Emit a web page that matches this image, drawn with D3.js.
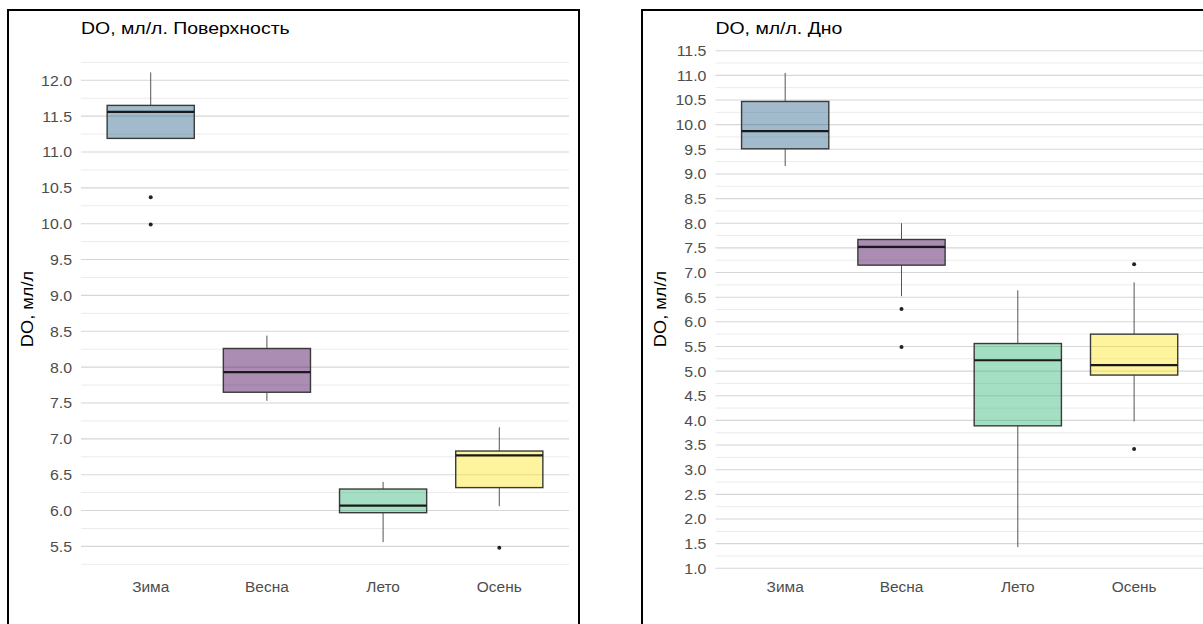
<!DOCTYPE html>
<html>
<head>
<meta charset="utf-8">
<script src="https://cdn.jsdelivr.net/npm/d3@7"></script>
<style>
  html, body { margin: 0; padding: 0; background: #fff; }
  svg { display: block; font-family: "Liberation Sans", Arial, sans-serif; }
</style>
</head>
<body>
<svg id="chart" width="1203" height="624"></svg>
<script>
const categories = ["Зима", "Весна", "Лето", "Осень"];
const colors = ["#31688E", "#440154", "#35B779", "#FDE725"];

// Surface panel
const surfaceTitle = "DO, мл/л. Поверхность";
const surfaceWhiskerLow  = [11.19, 7.53, 5.56, 6.06];
const surfaceQ1          = [11.19, 7.65, 5.97, 6.32];
const surfaceMedian      = [11.56, 7.93, 6.07, 6.77];
const surfaceQ3          = [11.65, 8.26, 6.30, 6.83];
const surfaceWhiskerHigh = [12.11, 8.44, 6.40, 7.16];
const surfaceOutliers    = [[10.37, 9.99], [], [], [5.48]];
const surfaceTicks = [5.5, 6.0, 6.5, 7.0, 7.5, 8.0, 8.5, 9.0, 9.5, 10.0, 10.5, 11.0, 11.5, 12.0];
const surfaceMinor = [5.25, 5.75, 6.25, 6.75, 7.25, 7.75, 8.25, 8.75, 9.25, 9.75, 10.25, 10.75, 11.25, 11.75, 12.25];

// Bottom panel
const bottomTitle = "DO, мл/л. Дно";
const bottomWhiskerLow  = [9.16, 6.52, 1.43, 3.98];
const bottomQ1          = [9.51, 7.15, 3.89, 4.92];
const bottomMedian      = [9.87, 7.52, 5.22, 5.12];
const bottomQ3          = [10.47, 7.67, 5.56, 5.75];
const bottomWhiskerHigh = [11.05, 8.00, 6.64, 6.80];
const bottomOutliers    = [[], [6.26, 5.49], [], [7.17, 3.42]];
const bottomTicks = [1.0, 1.5, 2.0, 2.5, 3.0, 3.5, 4.0, 4.5, 5.0, 5.5, 6.0, 6.5, 7.0, 7.5, 8.0, 8.5, 9.0, 9.5, 10.0, 10.5, 11.0, 11.5];
const bottomMinor = [1.25, 1.75, 2.25, 2.75, 3.25, 3.75, 4.25, 4.75, 5.25, 5.75, 6.25, 6.75, 7.25, 7.75, 8.25, 8.75, 9.25, 9.75, 10.25, 10.75, 11.25];

const yTitle = "DO, мл/л";

const svg = d3.select("#chart");

function drawPanel(cfg) {
  const g = svg.append("g");
  // frame
  g.append("rect")
    .attr("x", cfg.frame[0]).attr("y", cfg.frame[1])
    .attr("width", cfg.frame[2]).attr("height", cfg.frame[3])
    .attr("fill", "none").attr("stroke", "#000").attr("stroke-width", 2);

  const x = d3.scalePoint().domain(categories).range([cfg.left, cfg.right]).padding(0.6);
  const y = d3.scaleLinear().domain(cfg.domain).range(cfg.yrange);
  const bw = x.step() * 0.75;

  // minor gridlines
  g.selectAll(".minor").data(cfg.minor).join("line")
    .attr("x1", cfg.left).attr("x2", cfg.right)
    .attr("y1", d => y(d)).attr("y2", d => y(d))
    .attr("stroke", "#ebebeb").attr("stroke-width", 1);
  // major gridlines
  g.selectAll(".major").data(cfg.ticks).join("line")
    .attr("x1", cfg.left).attr("x2", cfg.right)
    .attr("y1", d => y(d)).attr("y2", d => y(d))
    .attr("stroke", "#d6d6d6").attr("stroke-width", 1.1);

  // y tick labels
  g.selectAll(".ytl").data(cfg.ticks).join("text")
    .attr("transform", d => `translate(${cfg.left - 9},${y(d)}) scale(1.06,1)`)
    .attr("dy", "0.36em").attr("text-anchor", "end")
    .attr("font-size", 15).attr("fill", "#4d4d4d")
    .text(d => d3.format(".1f")(d));

  // x labels
  g.selectAll(".xtl").data(categories).join("text")
    .attr("transform", d => `translate(${x(d)},${cfg.xLabelY}) scale(1.03,1)`)
    .attr("dy", "0.36em").attr("text-anchor", "middle")
    .attr("font-size", 15).attr("fill", "#4d4d4d")
    .text(d => d);

  // title
  g.append("text")
    .attr("transform", `translate(${cfg.left},34) scale(1.18,1)`)
    .attr("font-size", 16.5).attr("fill", "#000").text(cfg.title);

  // y axis title
  g.append("text")
    .attr("transform", `translate(${cfg.yTitleX},${cfg.yTitleY}) rotate(-90) scale(1.14,1)`)
    .attr("text-anchor", "middle").attr("dy", "0.36em")
    .attr("font-size", 16).attr("fill", "#000").text(yTitle);

  const data = categories.map((c, i) => ({
    c, i, lo: cfg.lo[i], q1: cfg.q1[i], med: cfg.med[i], q3: cfg.q3[i], hi: cfg.hi[i], out: cfg.out[i]
  }));

  // whiskers
  g.selectAll(".wu").data(data).join("line")
    .attr("x1", d => x(d.c)).attr("x2", d => x(d.c))
    .attr("y1", d => y(d.q3)).attr("y2", d => y(d.hi))
    .attr("stroke", "#555").attr("stroke-width", 1);
  g.selectAll(".wl").data(data).join("line")
    .attr("x1", d => x(d.c)).attr("x2", d => x(d.c))
    .attr("y1", d => y(d.q1)).attr("y2", d => y(d.lo))
    .attr("stroke", "#555").attr("stroke-width", 1);

  // boxes
  g.selectAll(".box").data(data).join("rect")
    .attr("x", d => x(d.c) - bw / 2).attr("width", bw)
    .attr("y", d => y(d.q3)).attr("height", d => y(d.q1) - y(d.q3))
    .attr("fill", d => colors[d.i]).attr("fill-opacity", 0.45)
    .attr("stroke", "#3a3a3a").attr("stroke-width", 1.4);

  // medians
  g.selectAll(".med").data(data).join("line")
    .attr("x1", d => x(d.c) - bw / 2).attr("x2", d => x(d.c) + bw / 2)
    .attr("y1", d => y(d.med)).attr("y2", d => y(d.med))
    .attr("stroke", "#1a1a1a").attr("stroke-width", 2.2);

  // outliers
  const outs = data.flatMap(d => d.out.map(v => ({ c: d.c, v })));
  g.selectAll(".out").data(outs).join("circle")
    .attr("cx", d => x(d.c)).attr("cy", d => y(d.v)).attr("r", 2)
    .attr("fill", "#222");
}

drawPanel({
  frame: [8, 10, 571, 640],
  left: 81, right: 569,
  domain: [5.5, 12], yrange: [546.4, 80.3],
  ticks: surfaceTicks, minor: surfaceMinor,
  xLabelY: 587, title: surfaceTitle,
  yTitleX: 27, yTitleY: 309,
  lo: surfaceWhiskerLow, q1: surfaceQ1, med: surfaceMedian, q3: surfaceQ3, hi: surfaceWhiskerHigh, out: surfaceOutliers
});

drawPanel({
  frame: [642, 10, 600, 640],
  left: 715.4, right: 1203.9,
  domain: [1, 11.5], yrange: [568.3, 50.7],
  ticks: bottomTicks, minor: bottomMinor,
  xLabelY: 587, title: bottomTitle,
  yTitleX: 660, yTitleY: 309,
  lo: bottomWhiskerLow, q1: bottomQ1, med: bottomMedian, q3: bottomQ3, hi: bottomWhiskerHigh, out: bottomOutliers
});
</script>
</body>
</html>
